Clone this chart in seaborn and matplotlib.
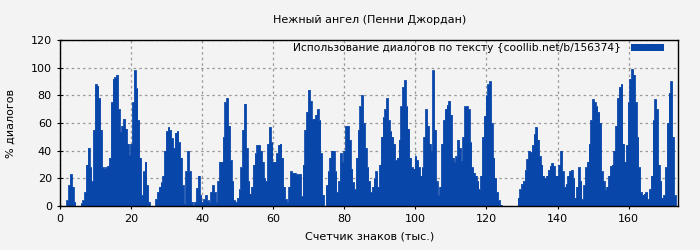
import matplotlib
matplotlib.use("Agg")
import matplotlib.pyplot as plt
import numpy as np
import pandas as pd
import seaborn as sns

title = "Нежный ангел (Пенни Джордан)"
x_label = "Счетчик знаков (тыс.)"
y_label = "% диалогов"
legend_label = "Использование диалогов по тексту {coollib.net/b/156374}"

step = 0.5  # thousand characters per sample
dialog_pct = [
    0, 0, 0, 0, 4, 15, 23, 14, 3, 0,
    0, 0, 2, 4, 10, 30, 42, 28, 18, 55,
    88, 87, 78, 55, 28, 27, 28, 29, 35, 75,
    92, 93, 95, 70, 54, 58, 63, 56, 45, 37,
    45, 75, 98, 85, 62, 35, 8, 25, 32, 15,
    3, 0, 0, 0, 5, 10, 14, 17, 22, 40,
    54, 57, 55, 49, 42, 53, 54, 46, 35, 15,
    2, 25, 40, 25, 3, 0, 3, 13, 22, 8,
    3, 5, 8, 4, 3, 10, 15, 10, 3, 18,
    32, 32, 50, 75, 78, 58, 33, 18, 4, 3,
    6, 12, 28, 55, 74, 42, 18, 9, 14, 30,
    38, 44, 44, 40, 32, 20, 18, 45, 57, 46,
    32, 32, 38, 44, 45, 35, 14, 5, 3, 14,
    25, 24, 24, 23, 23, 23, 7, 30, 55, 68,
    84, 76, 63, 63, 66, 70, 62, 38, 8, 0,
    15, 25, 35, 40, 40, 25, 10, 18, 38, 32,
    40, 58, 58, 48, 27, 17, 12, 35, 55, 72,
    80, 60, 42, 28, 18, 10, 14, 20, 25, 14,
    30, 50, 64, 70, 78, 62, 54, 50, 45, 33,
    35, 48, 72, 86, 91, 72, 56, 35, 28, 27,
    36, 33, 28, 22, 28, 50, 70, 58, 45, 40,
    98, 55, 18, 8, 14, 45, 62, 70, 73, 76,
    66, 35, 32, 36, 48, 42, 33, 50, 72, 72,
    70, 46, 28, 24, 22, 18, 12, 22, 50, 65,
    80, 88, 90, 60, 35, 20, 10, 4, 1, 0,
    0, 0, 0, 0, 0, 0, 0, 0, 6, 12,
    16, 18, 26, 34, 40, 39, 44, 52, 57, 48,
    36, 30, 22, 20, 22, 26, 29, 31, 29, 22,
    22, 30, 40, 25, 14, 16, 22, 25, 26, 20,
    6, 14, 28, 18, 5, 15, 28, 32, 45, 62,
    77, 75, 72, 68, 60, 25, 18, 12, 14, 22,
    29, 30, 40, 58, 78, 86, 88, 45, 32, 44,
    75, 92, 99, 95, 75, 50, 28, 10, 8, 9,
    10, 5, 12, 22, 62, 77, 70, 30, 18, 6,
    8, 28, 60, 82, 90, 50, 8, 0,
]
chars_k = np.arange(len(dialog_pct)) * step

df = pd.DataFrame({"chars": chars_k, "pct": dialog_pct})

bg = "#f3f3f3"
blue = "#0846aa"

fig = plt.figure(figsize=(7, 2.5), dpi=100, facecolor=bg)
ax = fig.add_axes([0.086, 0.176, 0.883, 0.664], facecolor=bg)

# outline via seaborn, filled area under it
sns.lineplot(data=df, x="chars", y="pct", drawstyle="steps-mid",
             color=blue, linewidth=0.6, ax=ax, legend=False)
ax.fill_between(df["chars"], df["pct"], step="mid", color=blue,
                linewidth=0, label=legend_label)

ax.set_xlim(0, 174)
ax.set_ylim(0, 120)
ax.set_xticks(range(0, 161, 20))
ax.set_yticks(range(0, 121, 20))
ax.grid(True, color="#999999", linestyle=(0, (2, 2.5)), linewidth=0.9)
ax.set_axisbelow(True)
for s in ax.spines.values():
    s.set_color("black")
    s.set_linewidth(1)
ax.tick_params(labelsize=8, direction="inout", length=5, colors="black")

ax.set_title(title, fontsize=8, pad=12)
ax.set_xlabel(x_label, fontsize=8, labelpad=5)
ax.set_ylabel(y_label, fontsize=8, labelpad=11)

ax.legend(loc="upper right", bbox_to_anchor=(0.98, 0.995), frameon=False,
          fontsize=7.7, handlelength=3.1, handleheight=0.65,
          markerfirst=False, borderaxespad=0, borderpad=0.2,
          handletextpad=0.9)

fig.savefig("out.png", dpi=100, facecolor=bg)
